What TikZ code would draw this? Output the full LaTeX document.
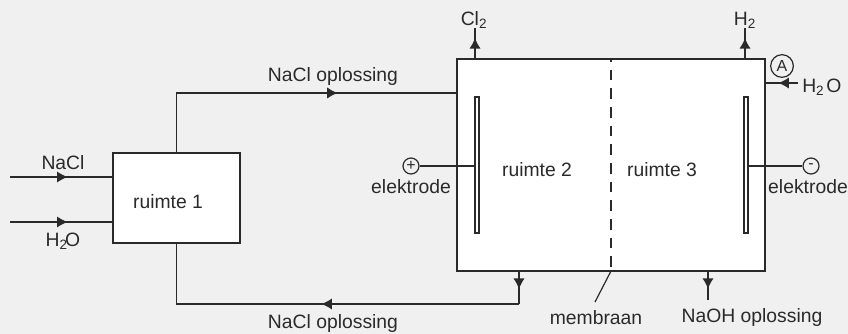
\documentclass[tikz,border=0pt]{standalone}
\usepackage{fontspec}
\setmainfont{Liberation Sans}
\usetikzlibrary{arrows.meta,positioning,decorations.markings}
\definecolor{PageGray}{HTML}{F0F0F0}
\definecolor{Ink}{HTML}{2A2A2A}

\begin{document}
\begin{tikzpicture}[
    x=0.75pt, y=-0.75pt,
    box/.style={draw=Ink, fill=white, line width=1.4pt, outer sep=0pt},
    plate/.style={draw=Ink, fill=white, line width=0.9pt, outer sep=0pt, inner sep=0pt,
                  minimum width=3pt, minimum height=102pt},
    label/.style={text=Ink, font=\fontsize{14.5}{16}\selectfont, inner sep=0pt},
    pole/.style={draw=Ink, circle, line width=0.9pt, inner sep=0pt, minimum size=12pt,
                 text=Ink, font=\fontsize{12}{12}\selectfont},
    pipe/.style={draw=Ink, line width=1.1pt},
    flow/.style={postaction={decorate, decoration={markings,
                 mark=at position #1 with {\arrow{Latex[length=8pt,width=8.5pt]}}}}}
  ]
    \fill[PageGray] (0,0) rectangle (848,334);
    \useasboundingbox (0,0) rectangle (848,334);

    \node[box, minimum width=95.25pt, minimum height=67.5pt] (room1) at (176.5,198) {};
    \node[box, minimum width=231pt, minimum height=159pt] (cell) at (611,165) {};
    \node[plate] (anode) at (477,165) {};
    \node[plate] (cathode) at (746,165) {};

    \node[label] (r1) at (168,202) {ruimte 1};
    \node[label] (r2) at (537,170) {ruimte 2};
    \node[label] (r3) at (662,170) {ruimte 3};

    \coordinate (naclstart) at (10,177);
    \coordinate (naclend) at (113,177);
    \coordinate (waterstart) at (10,222);
    \coordinate (waterend) at (113,222);
    \node[label] (nacl) at (63,163) {NaCl};
    \node[label] (water) at (63,241) {H\textsubscript{2}\kern-2pt O};
    \draw[pipe, flow=0.56] (naclstart) -- (naclend);
    \draw[pipe, flow=0.56] (waterstart) -- (waterend);

    \coordinate (inlet) at (457,93);
    \coordinate (outlet) at (519,271);
    \coordinate (corner) at (519,304);
    \node[label] (feedtop) at (333,77) {NaCl oplossing};
    \node[label] (feedbot) at (333,324) {NaCl oplossing};
    \draw[pipe, flow=0.65] (room1.north) |- (inlet);
    \draw[pipe, flow=0.55] (outlet) -- (corner);
    \draw[pipe, flow=0.49] (corner) -| (room1.south);

    \coordinate (clbase) at (475,59);
    \coordinate (hbase) at (745,59);
    \coordinate (cltop) at (475,28);
    \coordinate (htop) at (745,28);
    \node[label] (cl2) at (474,20) {Cl\textsubscript{2}};
    \node[label] (h2) at (745,20) {H\textsubscript{2}};
    \draw[pipe, flow=0.68] (clbase) -- (cltop);
    \draw[pipe, flow=0.68] (hbase) -- (htop);

    \node[pole, minimum size=17pt] (pointA) at (782,66) {A};
    \coordinate (waterin) at (798,83);
    \coordinate (waterwall) at (765,83);
    \node[label, anchor=west] (water3) at (802,87) {H\textsubscript{2}\kern1.5pt O};
    \draw[pipe, flow=0.6] (waterin) -- (waterwall);

    \node[pole] (plus) at (411,166) {+};
    \node[pole] (minus) at (811,166) {-};
    \node[label] (eleft) at (411,187) {elektrode};
    \node[label] (eright) at (808,187) {elektrode};
    \draw[pipe] (plus) -- (anode.west |- plus);
    \draw[pipe] (minus) -- (cathode.east |- minus);

    \coordinate (memtop) at (611,59);
    \coordinate (membot) at (611,271);
    \coordinate (memtip) at (595,302);
    \draw[pipe, dash pattern=on 8pt off 6pt, dash phase=6pt] (memtop) -- (membot);
    \draw[draw=Ink, line width=0.9pt] (membot) -- (memtip);
    \node[label] (mem) at (596,318) {membraan};

    \coordinate (nabase) at (708,271);
    \coordinate (naend) at (708,300);
    \draw[pipe, flow=0.62] (nabase) -- (naend);
    \node[label] (naoh) at (752,318) {NaOH oplossing};
  \end{tikzpicture}
\end{document}
